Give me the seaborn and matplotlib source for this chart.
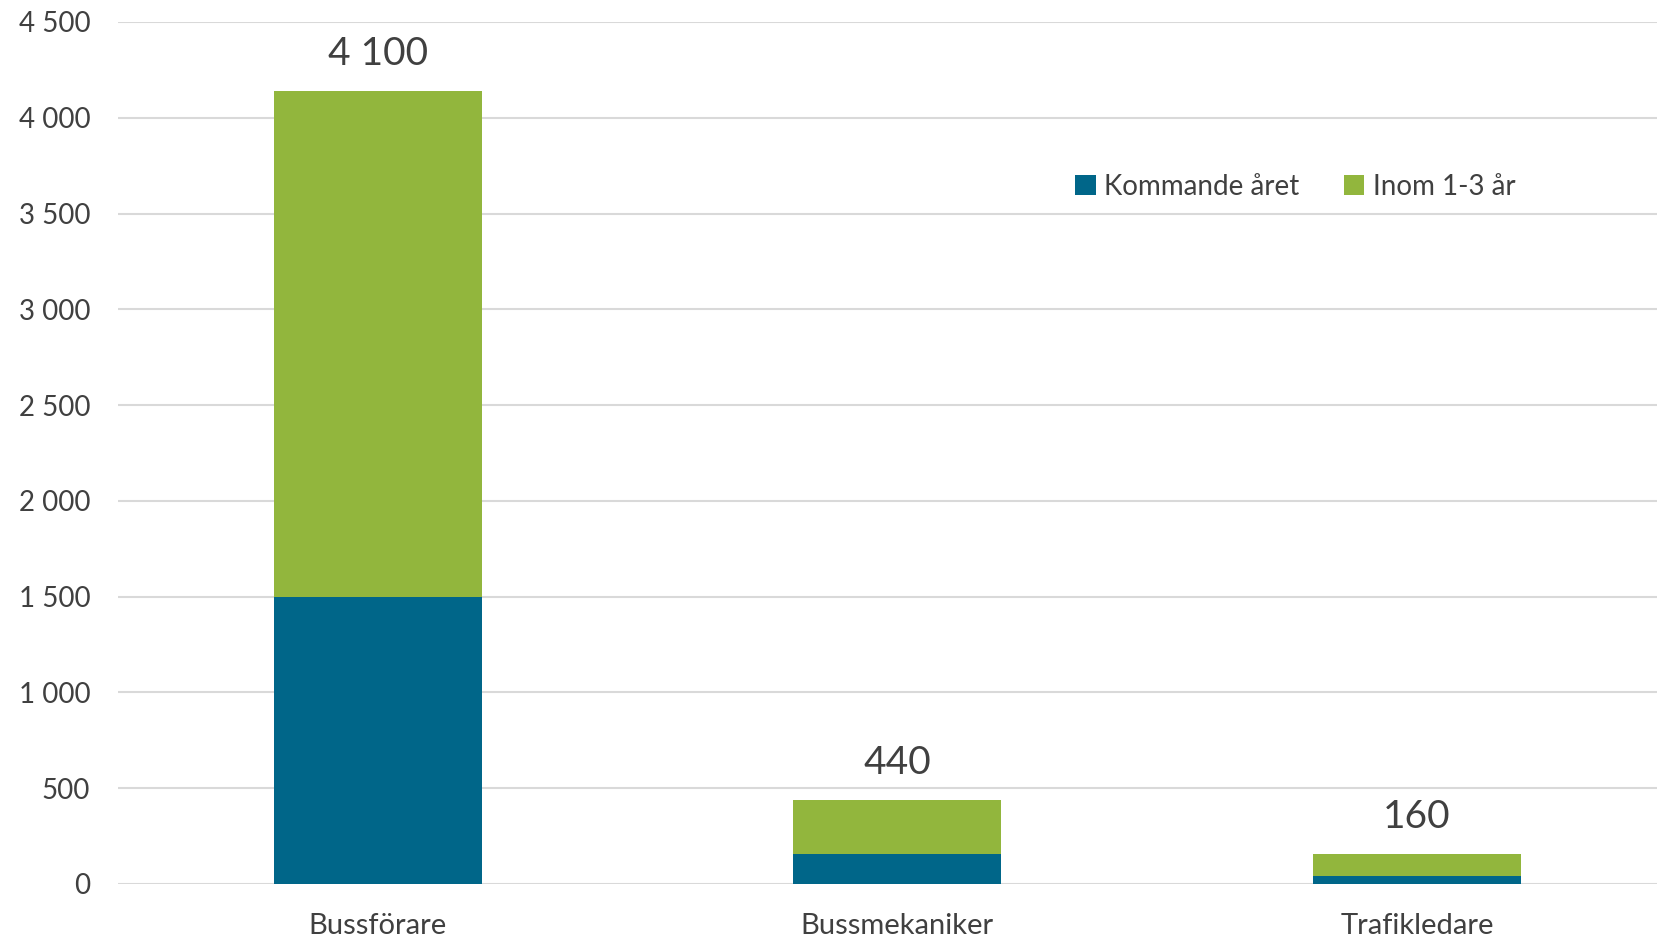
import matplotlib
matplotlib.use("Agg")
import matplotlib.pyplot as plt
import seaborn as sns
import pandas as pd
from matplotlib.ticker import FuncFormatter, MultipleLocator

categories = ["Bussförare", "Bussmekaniker", "Trafikledare"]
kommande_aret = [1500, 155, 40]
inom_1_3_ar = [2640, 281, 115]
total_labels = ["4 100", "440", "160"]
series_names = ["Kommande året", "Inom 1-3 år"]

BLUE = "#006689"
GREEN = "#92B63D"
TEXT = "#404040"
GRID = "#d9d9d9"

sns.set_theme(style="white")
plt.rcParams["font.family"] = ["Lato", "DejaVu Sans"]

totals = [a + b for a, b in zip(kommande_aret, inom_1_3_ar)]
df = pd.DataFrame({"kategori": categories, "blue": kommande_aret, "total": totals})

fig = plt.figure(figsize=(16.58, 9.39), dpi=100)
ax = fig.add_axes([118 / 1658, 1 - 884 / 939, 1 - 118 / 1658, (884 - 22) / 939])

sns.barplot(data=df, x="kategori", y="total", color=GREEN, width=0.4,
            saturation=1, label=series_names[1], ax=ax, zorder=3, linewidth=0)
sns.barplot(data=df, x="kategori", y="blue", color=BLUE, width=0.4,
            saturation=1, label=series_names[0], ax=ax, zorder=3, linewidth=0)

ax.set_ylim(0, 4500)
ax.set_xlim(-0.5, 2.464)
ax.yaxis.set_major_locator(MultipleLocator(500))
ax.yaxis.set_major_formatter(FuncFormatter(lambda v, p: f"{int(v):,}".replace(",", " ")))
ax.grid(axis="y", color=GRID, linewidth=1.5, zorder=0)
ax.set_axisbelow(True)
for s in ax.spines.values():
    s.set_visible(False)
ax.set_xlabel("")
ax.set_ylabel("")
ax.tick_params(axis="y", length=0, pad=20, labelsize=20, labelcolor=TEXT)
ax.tick_params(axis="x", length=0, pad=21, labelsize=21, labelcolor=TEXT)

for i, (t, lab) in enumerate(zip(totals, total_labels)):
    ax.annotate(lab, (i, t), xytext=(0, 14), textcoords="offset points",
                ha="center", va="bottom", fontsize=28, color=TEXT)

handles, labels = ax.get_legend_handles_labels()
order = [labels.index(n) for n in series_names]
leg = ax.legend([handles[k] for k in order], [labels[k] for k in order],
                ncol=2, frameon=False, fontsize=20, handlelength=0.75,
                handleheight=0.75, handletextpad=0.3, columnspacing=1.6,
                loc="center", bbox_to_anchor=(1295 / 1658, 1 - 187 / 939),
                bbox_transform=fig.transFigure)
for t in leg.get_texts():
    t.set_color(TEXT)

fig.savefig("out.png", dpi=100)
